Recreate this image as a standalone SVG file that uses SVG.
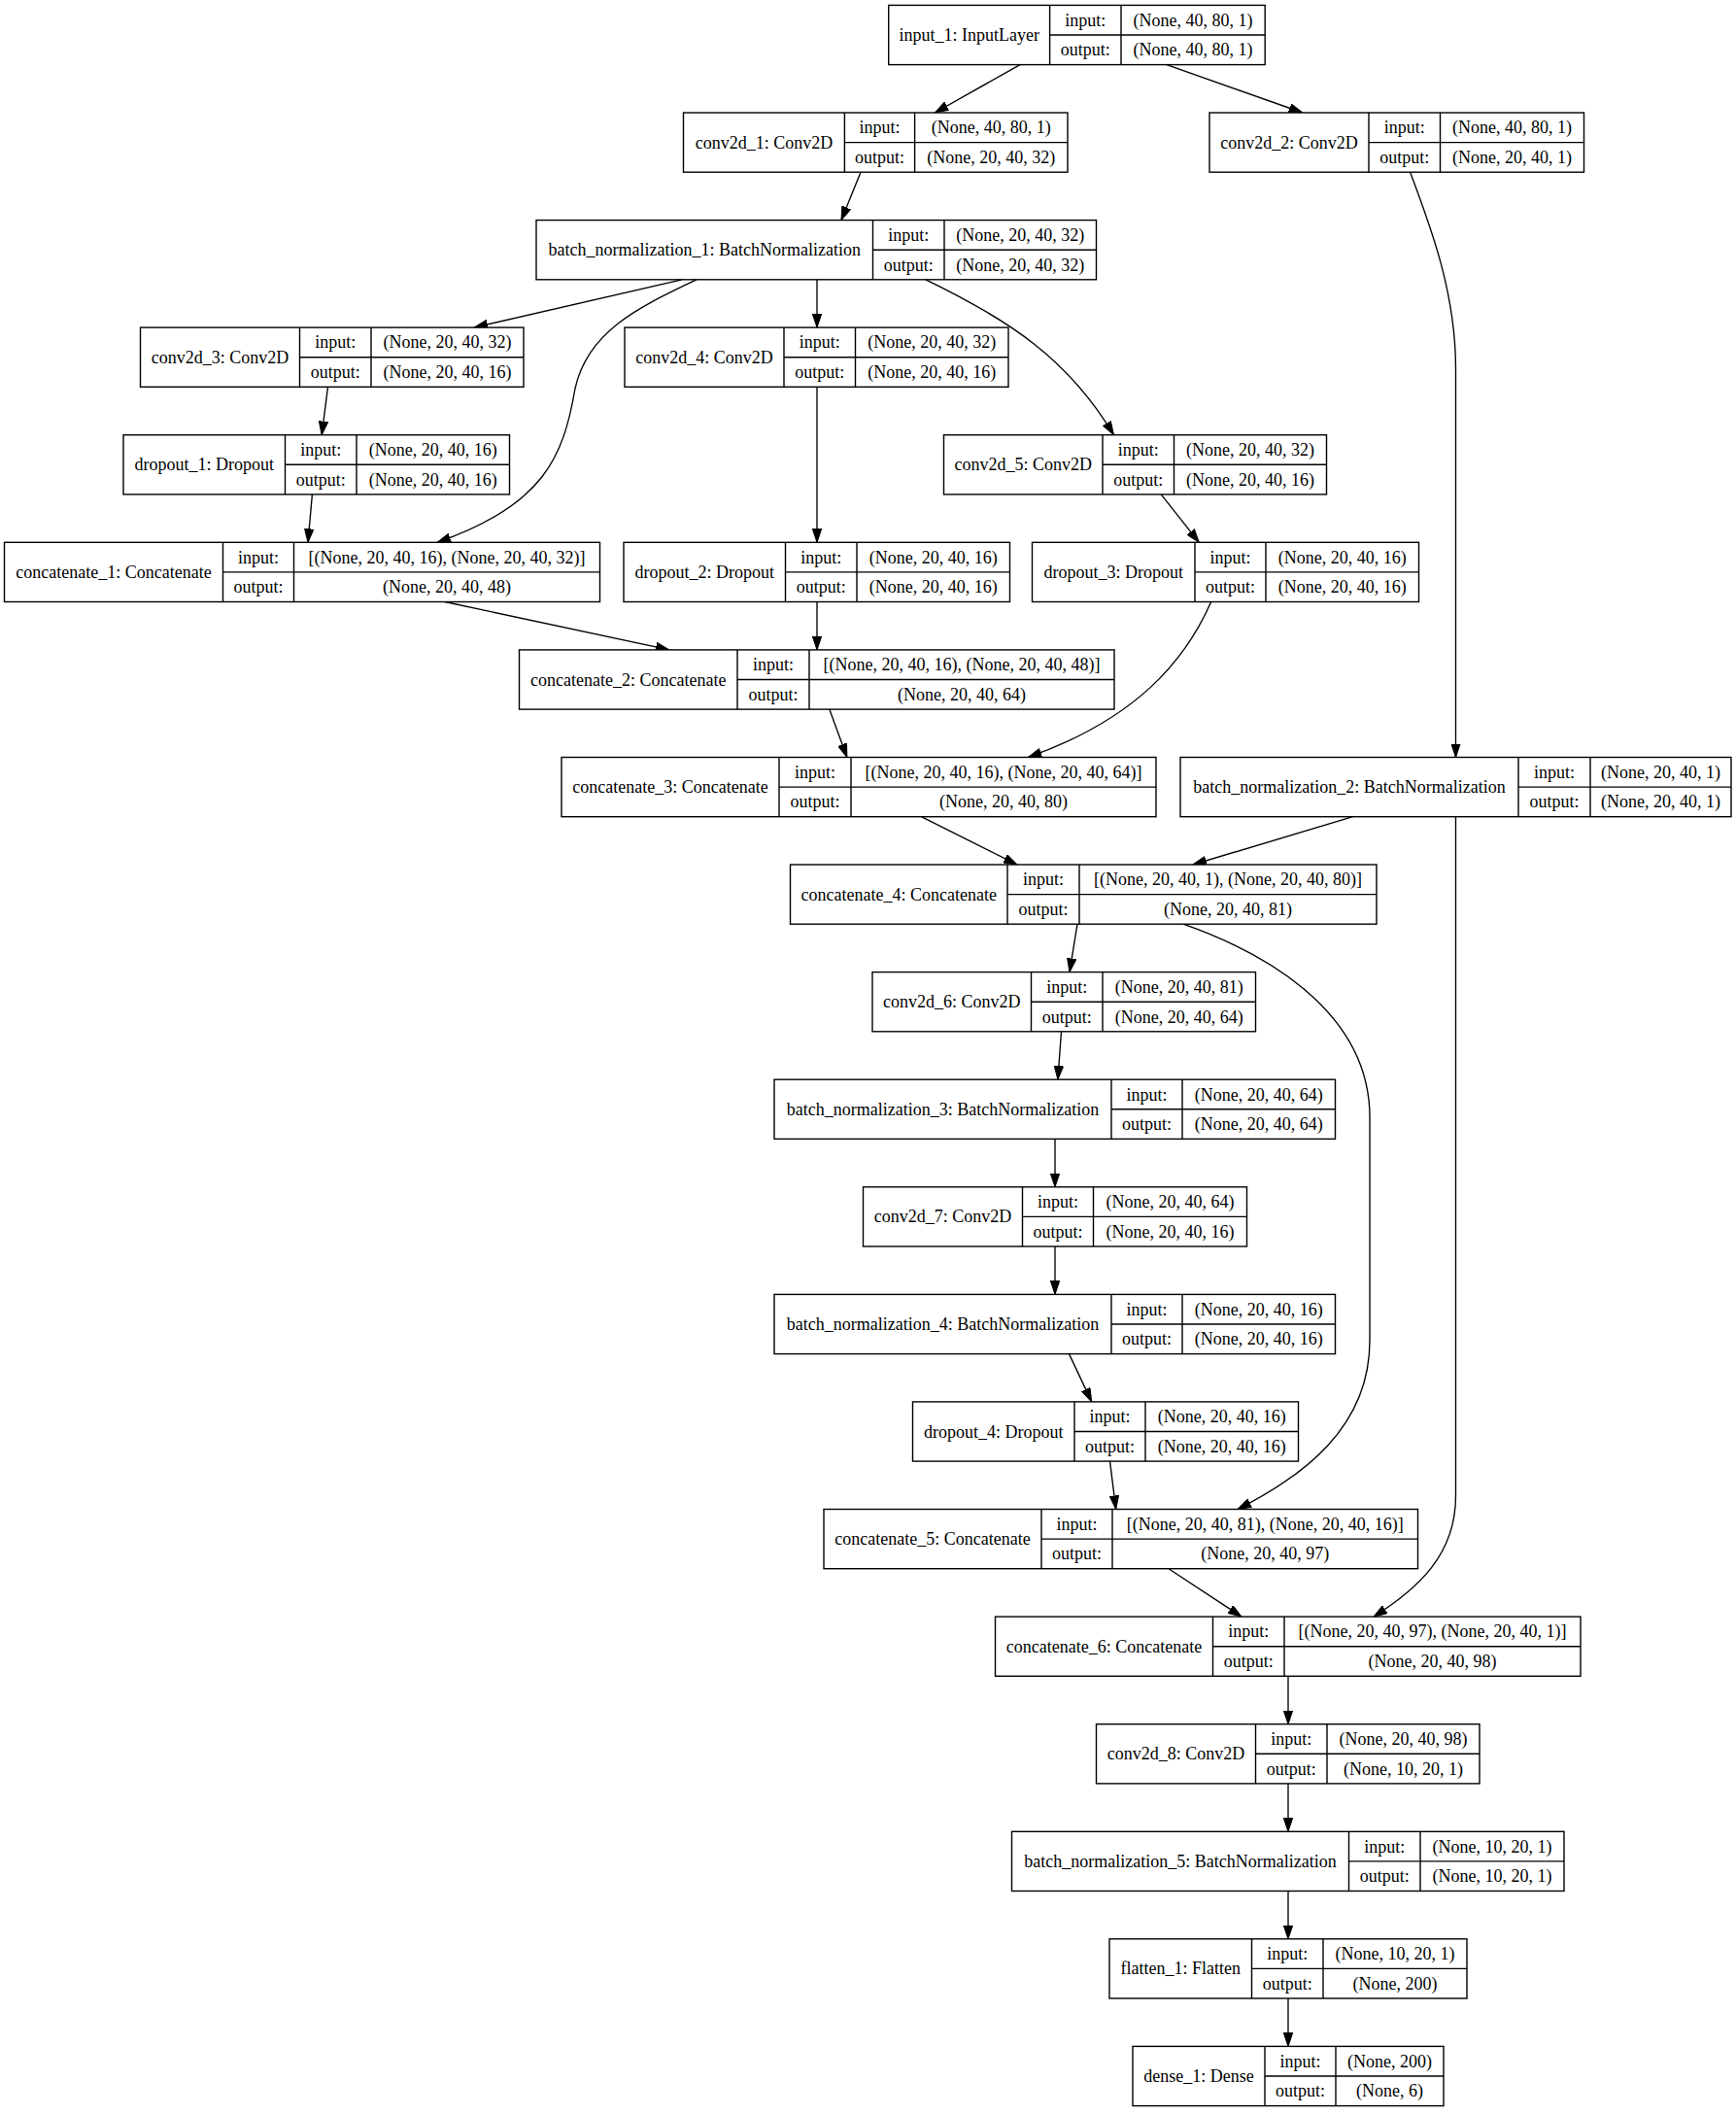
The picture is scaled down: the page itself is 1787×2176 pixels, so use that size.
<svg xmlns="http://www.w3.org/2000/svg" width="1787" height="2176" viewBox="0 0 1787 2176">
<style>
.n rect{fill:#fff;stroke:#000;stroke-width:1.4}
.n path{fill:none;stroke:#000;stroke-width:1.4}
.n text{font-family:"Liberation Serif","Times New Roman",serif;font-size:18px;fill:#000;text-anchor:middle}
#edges path{fill:none;stroke:#000;stroke-width:1.35;marker-end:url(#ah)}
</style>
<defs>
<marker id="ah" markerUnits="userSpaceOnUse" viewBox="0 0 14 10" markerWidth="14" markerHeight="10" refX="14" refY="5" orient="auto"><path d="M0,0.3 L14,5 L0,9.7 z" fill="#000" stroke="#000" stroke-width="1"/></marker>
</defs>
<rect width="1787" height="2176" fill="#fff"/>
<g id="edges">
<path d="M1050,66.6 L962.4,116"/>
<path d="M1201,66.6 L1340.8,116"/>
<path d="M886,177.2 L866,226.6"/>
<path d="M1451.6,177.2 C1472,232 1498.5,300 1498.5,380 L1498.5,779.5"/>
<path d="M702,287.8 L488,337.1"/>
<path d="M841,287.8 L841,337.1"/>
<path d="M953,287.8 C1040,330 1100,370 1146.5,447.7"/>
<path d="M717,287.8 C660,315 605,340 592,400 C580,470 560,520 450,558.3"/>
<path d="M337.5,398.3 L331.2,447.7"/>
<path d="M321.4,508.9 L317,558.3"/>
<path d="M841,398.3 L841,558.3"/>
<path d="M1195.2,508.9 L1234.3,558.3"/>
<path d="M458,619.5 L689,668.9"/>
<path d="M841,619.5 L841,668.9"/>
<path d="M853.8,730.1 L871.9,779.5"/>
<path d="M1246.7,619.5 C1220,680 1170,740 1058.3,779.5"/>
<path d="M948.4,840.7 L1047,890"/>
<path d="M1392.6,840.7 L1228,890"/>
<path d="M1109,951.2 L1101,1000.6"/>
<path d="M1218,951.2 C1300,980 1410,1040 1410,1150 L1410,1380 C1410,1470 1340,1520 1274,1553.5"/>
<path d="M1092.5,1061.8 L1088.9,1111.2"/>
<path d="M1086,1172.4 L1086,1221.8"/>
<path d="M1086,1283 L1086,1332.4"/>
<path d="M1100.5,1393.6 L1123.7,1442.9"/>
<path d="M1142.5,1504.1 L1148.7,1553.5"/>
<path d="M1203,1614.7 L1278,1664.1"/>
<path d="M1498.5,840.7 L1498.5,1540 C1498.5,1600 1460,1635 1414,1664.1"/>
<path d="M1326,1725.3 L1326,1774.7"/>
<path d="M1326,1835.9 L1326,1885.3"/>
<path d="M1326,1946.5 L1326,1995.8"/>
<path d="M1326,2057 L1326,2106.4"/>
</g>

<g id="input_1" class="n"><rect x="914.7" y="5.4" width="387.5" height="61.2"/><path d="M1080.6,5.4V66.6M1154,5.4V66.6M1080.6,36H1302.2"/>
<text x="997.65" y="42">input_1: InputLayer</text><text x="1117.3" y="26.7">input:</text><text x="1117.3" y="57.3">output:</text><text x="1228.1" y="26.7">(None, 40, 80, 1)</text><text x="1228.1" y="57.3">(None, 40, 80, 1)</text></g>

<g id="conv2d_1" class="n"><rect x="703.5" y="116" width="395.5" height="61.2"/><path d="M869.4,116V177.2M941.6,116V177.2M869.4,146.6H1099"/>
<text x="786.45" y="152.6">conv2d_1: Conv2D</text><text x="905.5" y="137.3">input:</text><text x="905.5" y="167.9">output:</text><text x="1020.3" y="137.3">(None, 40, 80, 1)</text><text x="1020.3" y="167.9">(None, 20, 40, 32)</text></g>

<g id="conv2d_2" class="n"><rect x="1245" y="116" width="385.5" height="61.2"/><path d="M1409,116V177.2M1482.5,116V177.2M1409,146.6H1630.5"/>
<text x="1327" y="152.6">conv2d_2: Conv2D</text><text x="1445.75" y="137.3">input:</text><text x="1445.75" y="167.9">output:</text><text x="1556.5" y="137.3">(None, 40, 80, 1)</text><text x="1556.5" y="167.9">(None, 20, 40, 1)</text></g>

<g id="batch_normalization_1" class="n"><rect x="552" y="226.6" width="576.5" height="61.2"/><path d="M898.5,226.6V287.8M972,226.6V287.8M898.5,257.2H1128.5"/>
<text x="725.25" y="263.2">batch_normalization_1: BatchNormalization</text><text x="935.25" y="247.9">input:</text><text x="935.25" y="278.5">output:</text><text x="1050.25" y="247.9">(None, 20, 40, 32)</text><text x="1050.25" y="278.5">(None, 20, 40, 32)</text></g>

<g id="conv2d_3" class="n"><rect x="144.5" y="337.1" width="394.5" height="61.2"/><path d="M308.5,337.1V398.3M382,337.1V398.3M308.5,367.7H539"/>
<text x="226.5" y="373.7">conv2d_3: Conv2D</text><text x="345.25" y="358.4">input:</text><text x="345.25" y="389">output:</text><text x="460.5" y="358.4">(None, 20, 40, 32)</text><text x="460.5" y="389">(None, 20, 40, 16)</text></g>

<g id="conv2d_4" class="n"><rect x="643" y="337.1" width="395" height="61.2"/><path d="M807,337.1V398.3M880.5,337.1V398.3M807,367.7H1038"/>
<text x="725" y="373.7">conv2d_4: Conv2D</text><text x="843.75" y="358.4">input:</text><text x="843.75" y="389">output:</text><text x="959.25" y="358.4">(None, 20, 40, 32)</text><text x="959.25" y="389">(None, 20, 40, 16)</text></g>

<g id="dropout_1" class="n"><rect x="127" y="447.7" width="397.5" height="61.2"/><path d="M293.5,447.7V508.9M367,447.7V508.9M293.5,478.3H524.5"/>
<text x="210.25" y="484.3">dropout_1: Dropout</text><text x="330.25" y="469">input:</text><text x="330.25" y="499.6">output:</text><text x="445.75" y="469">(None, 20, 40, 16)</text><text x="445.75" y="499.6">(None, 20, 40, 16)</text></g>

<g id="conv2d_5" class="n"><rect x="971.5" y="447.7" width="394" height="61.2"/><path d="M1135,447.7V508.9M1208.5,447.7V508.9M1135,478.3H1365.5"/>
<text x="1053.25" y="484.3">conv2d_5: Conv2D</text><text x="1171.75" y="469">input:</text><text x="1171.75" y="499.6">output:</text><text x="1287" y="469">(None, 20, 40, 32)</text><text x="1287" y="499.6">(None, 20, 40, 16)</text></g>

<g id="concatenate_1" class="n"><rect x="4.5" y="558.3" width="613" height="61.2"/><path d="M229.5,558.3V619.5M302.5,558.3V619.5M229.5,588.9H617.5"/>
<text x="117" y="594.9">concatenate_1: Concatenate</text><text x="266" y="579.6">input:</text><text x="266" y="610.2">output:</text><text x="460" y="579.6">[(None, 20, 40, 16), (None, 20, 40, 32)]</text><text x="460" y="610.2">(None, 20, 40, 48)</text></g>

<g id="dropout_2" class="n"><rect x="642" y="558.3" width="397.5" height="61.2"/><path d="M808.5,558.3V619.5M882,558.3V619.5M808.5,588.9H1039.5"/>
<text x="725.25" y="594.9">dropout_2: Dropout</text><text x="845.25" y="579.6">input:</text><text x="845.25" y="610.2">output:</text><text x="960.75" y="579.6">(None, 20, 40, 16)</text><text x="960.75" y="610.2">(None, 20, 40, 16)</text></g>

<g id="dropout_3" class="n"><rect x="1062.5" y="558.3" width="398" height="61.2"/><path d="M1230,558.3V619.5M1303,558.3V619.5M1230,588.9H1460.5"/>
<text x="1146.25" y="594.9">dropout_3: Dropout</text><text x="1266.5" y="579.6">input:</text><text x="1266.5" y="610.2">output:</text><text x="1381.75" y="579.6">(None, 20, 40, 16)</text><text x="1381.75" y="610.2">(None, 20, 40, 16)</text></g>

<g id="concatenate_2" class="n"><rect x="534.5" y="668.9" width="612.5" height="61.2"/><path d="M759,668.9V730.1M833,668.9V730.1M759,699.5H1147"/>
<text x="646.75" y="705.5">concatenate_2: Concatenate</text><text x="796" y="690.2">input:</text><text x="796" y="720.8">output:</text><text x="990" y="690.2">[(None, 20, 40, 16), (None, 20, 40, 48)]</text><text x="990" y="720.8">(None, 20, 40, 64)</text></g>

<g id="concatenate_3" class="n"><rect x="578" y="779.5" width="612" height="61.2"/><path d="M802,779.5V840.7M876,779.5V840.7M802,810.1H1190"/>
<text x="690" y="816.1">concatenate_3: Concatenate</text><text x="839" y="800.8">input:</text><text x="839" y="831.4">output:</text><text x="1033" y="800.8">[(None, 20, 40, 16), (None, 20, 40, 64)]</text><text x="1033" y="831.4">(None, 20, 40, 80)</text></g>

<g id="batch_normalization_2" class="n"><rect x="1215" y="779.5" width="567" height="61.2"/><path d="M1563,779.5V840.7M1637,779.5V840.7M1563,810.1H1782"/>
<text x="1389" y="816.1">batch_normalization_2: BatchNormalization</text><text x="1600" y="800.8">input:</text><text x="1600" y="831.4">output:</text><text x="1709.5" y="800.8">(None, 20, 40, 1)</text><text x="1709.5" y="831.4">(None, 20, 40, 1)</text></g>

<g id="concatenate_4" class="n"><rect x="813.5" y="890" width="603.5" height="61.2"/><path d="M1037,890V951.2M1111,890V951.2M1037,920.6H1417"/>
<text x="925.25" y="926.6">concatenate_4: Concatenate</text><text x="1074" y="911.3">input:</text><text x="1074" y="941.9">output:</text><text x="1264" y="911.3">[(None, 20, 40, 1), (None, 20, 40, 80)]</text><text x="1264" y="941.9">(None, 20, 40, 81)</text></g>

<g id="conv2d_6" class="n"><rect x="898" y="1000.6" width="394.5" height="61.2"/><path d="M1061.5,1000.6V1061.8M1135,1000.6V1061.8M1061.5,1031.2H1292.5"/>
<text x="979.75" y="1037.2">conv2d_6: Conv2D</text><text x="1098.25" y="1021.9">input:</text><text x="1098.25" y="1052.5">output:</text><text x="1213.75" y="1021.9">(None, 20, 40, 81)</text><text x="1213.75" y="1052.5">(None, 20, 40, 64)</text></g>

<g id="batch_normalization_3" class="n"><rect x="797" y="1111.2" width="577.5" height="61.2"/><path d="M1144,1111.2V1172.4M1217,1111.2V1172.4M1144,1141.8H1374.5"/>
<text x="970.5" y="1147.8">batch_normalization_3: BatchNormalization</text><text x="1180.5" y="1132.5">input:</text><text x="1180.5" y="1163.1">output:</text><text x="1295.75" y="1132.5">(None, 20, 40, 64)</text><text x="1295.75" y="1163.1">(None, 20, 40, 64)</text></g>

<g id="conv2d_7" class="n"><rect x="888.5" y="1221.8" width="395" height="61.2"/><path d="M1052.5,1221.8V1283M1125.5,1221.8V1283M1052.5,1252.4H1283.5"/>
<text x="970.5" y="1258.4">conv2d_7: Conv2D</text><text x="1089" y="1243.1">input:</text><text x="1089" y="1273.7">output:</text><text x="1204.5" y="1243.1">(None, 20, 40, 64)</text><text x="1204.5" y="1273.7">(None, 20, 40, 16)</text></g>

<g id="batch_normalization_4" class="n"><rect x="797" y="1332.4" width="577.5" height="61.2"/><path d="M1144,1332.4V1393.6M1217,1332.4V1393.6M1144,1363H1374.5"/>
<text x="970.5" y="1369">batch_normalization_4: BatchNormalization</text><text x="1180.5" y="1353.7">input:</text><text x="1180.5" y="1384.3">output:</text><text x="1295.75" y="1353.7">(None, 20, 40, 16)</text><text x="1295.75" y="1384.3">(None, 20, 40, 16)</text></g>

<g id="dropout_4" class="n"><rect x="939.5" y="1442.9" width="397" height="61.2"/><path d="M1106,1442.9V1504.1M1179,1442.9V1504.1M1106,1473.5H1336.5"/>
<text x="1022.75" y="1479.5">dropout_4: Dropout</text><text x="1142.5" y="1464.2">input:</text><text x="1142.5" y="1494.8">output:</text><text x="1257.75" y="1464.2">(None, 20, 40, 16)</text><text x="1257.75" y="1494.8">(None, 20, 40, 16)</text></g>

<g id="concatenate_5" class="n"><rect x="848" y="1553.5" width="611.5" height="61.2"/><path d="M1072,1553.5V1614.7M1145,1553.5V1614.7M1072,1584.1H1459.5"/>
<text x="960" y="1590.1">concatenate_5: Concatenate</text><text x="1108.5" y="1574.8">input:</text><text x="1108.5" y="1605.4">output:</text><text x="1302.25" y="1574.8">[(None, 20, 40, 81), (None, 20, 40, 16)]</text><text x="1302.25" y="1605.4">(None, 20, 40, 97)</text></g>

<g id="concatenate_6" class="n"><rect x="1024.5" y="1664.1" width="602.5" height="61.2"/><path d="M1248.5,1664.1V1725.3M1322,1664.1V1725.3M1248.5,1694.7H1627"/>
<text x="1136.5" y="1700.7">concatenate_6: Concatenate</text><text x="1285.25" y="1685.4">input:</text><text x="1285.25" y="1716">output:</text><text x="1474.5" y="1685.4">[(None, 20, 40, 97), (None, 20, 40, 1)]</text><text x="1474.5" y="1716">(None, 20, 40, 98)</text></g>

<g id="conv2d_8" class="n"><rect x="1128.5" y="1774.7" width="394.5" height="61.2"/><path d="M1292.5,1774.7V1835.9M1366,1774.7V1835.9M1292.5,1805.3H1523"/>
<text x="1210.5" y="1811.3">conv2d_8: Conv2D</text><text x="1329.25" y="1796">input:</text><text x="1329.25" y="1826.6">output:</text><text x="1444.5" y="1796">(None, 20, 40, 98)</text><text x="1444.5" y="1826.6">(None, 10, 20, 1)</text></g>

<g id="batch_normalization_5" class="n"><rect x="1041.5" y="1885.3" width="568.5" height="61.2"/><path d="M1388.5,1885.3V1946.5M1462,1885.3V1946.5M1388.5,1915.9H1610"/>
<text x="1215" y="1921.9">batch_normalization_5: BatchNormalization</text><text x="1425.25" y="1906.6">input:</text><text x="1425.25" y="1937.2">output:</text><text x="1536" y="1906.6">(None, 10, 20, 1)</text><text x="1536" y="1937.2">(None, 10, 20, 1)</text></g>

<g id="flatten_1" class="n"><rect x="1142" y="1995.8" width="368" height="61.2"/><path d="M1288.5,1995.8V2057M1362,1995.8V2057M1288.5,2026.4H1510"/>
<text x="1215.25" y="2032.4">flatten_1: Flatten</text><text x="1325.25" y="2017.1">input:</text><text x="1325.25" y="2047.7">output:</text><text x="1436" y="2017.1">(None, 10, 20, 1)</text><text x="1436" y="2047.7">(None, 200)</text></g>

<g id="dense_1" class="n"><rect x="1166" y="2106.4" width="320" height="61.2"/><path d="M1302,2106.4V2167.6M1375,2106.4V2167.6M1302,2137H1486"/>
<text x="1234" y="2143">dense_1: Dense</text><text x="1338.5" y="2127.7">input:</text><text x="1338.5" y="2158.3">output:</text><text x="1430.5" y="2127.7">(None, 200)</text><text x="1430.5" y="2158.3">(None, 6)</text></g>
</svg>
